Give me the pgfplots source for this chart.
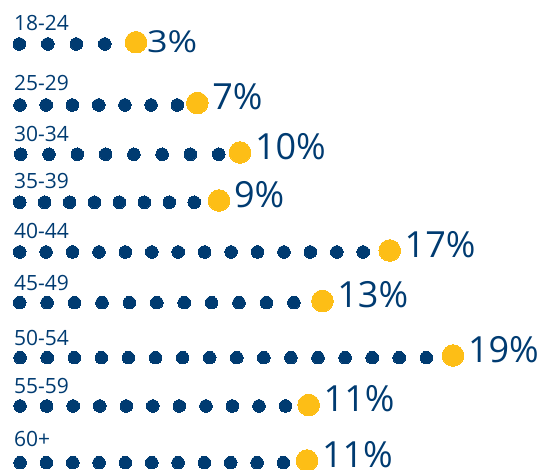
\documentclass[border=0pt]{standalone}
\usepackage{pgfplots}
\pgfplotsset{compat=1.18}
\usepackage{pgfplotstable}
\usepackage{graphicx}
\usepackage{fontspec}
\setmainfont{Open Sans}

\definecolor{navy}{RGB}{0,59,113}
\definecolor{gold}{RGB}{253,190,22}

% small navy dots of each row (pixel positions, y measured from the top)
\pgfplotstableread{
x y
19.3 44
47.8 44
76.3 44
104.8 44
20.0 105
46.2 105
72.4 105
98.7 105
124.9 105
151.1 105
177.3 105
20.7 154.3
49.0 154.3
77.3 154.3
105.6 154.3
133.9 154.3
162.1 154.3
190.4 154.3
218.7 154.3
19.7 202.3
44.6 202.3
69.6 202.3
94.5 202.3
119.4 202.3
144.4 202.3
169.3 202.3
194.2 202.3
19.7 252
46.1 252
72.5 252
99.0 252
125.4 252
151.8 252
178.2 252
204.6 252
231.1 252
257.5 252
283.9 252
310.3 252
336.8 252
363.2 252
19.7 302.7
47.1 302.7
74.5 302.7
102.0 302.7
129.4 302.7
156.8 302.7
184.2 302.7
211.6 302.7
239.0 302.7
266.5 302.7
293.9 302.7
20.1 357.7
47.2 357.7
74.3 357.7
101.4 357.7
128.4 357.7
155.5 357.7
182.6 357.7
209.7 357.7
236.8 357.7
263.8 357.7
290.9 357.7
318.0 357.7
345.1 357.7
372.2 357.7
399.2 357.7
426.3 357.7
20.1 406
46.6 406
73.2 406
99.7 406
126.3 406
152.8 406
179.3 406
205.9 406
232.4 406
259.0 406
285.5 406
20.1 462.7
46.4 462.7
72.8 462.7
99.1 462.7
125.4 462.7
151.8 462.7
178.1 462.7
204.4 462.7
230.7 462.7
257.1 462.7
283.4 462.7
}\bluedots

% end points (yellow) with their share
\pgfplotstableread{
x y label
136.0 42.2 3\%
}\firstrow
\pgfplotstableread{
x y label
197.3 103.0 7\%
240.0 152.5 10\%
219.0 200.5 9\%
389.7 250.5 17\%
322.4 301.0 13\%
453.0 355.5 19\%
308.7 405.0 11\%
307.0 460.5 11\%
}\otherrows

\begin{document}
\begin{tikzpicture}
\begin{axis}[
    width=552bp, height=470bp,
    scale only axis,
    xmin=0, xmax=552,
    ymin=0, ymax=470,
    y dir=reverse,
    hide axis,
    clip=false,
    point meta=explicit symbolic,
]
  \addplot[only marks, draw=none, mark=*, mark size=6.3bp,
    mark options={fill=navy, draw=navy, line width=0pt}] table {\bluedots};

  \addplot[only marks, draw=none, mark=*, mark size=10.8bp,
    mark options={fill=gold, draw=gold, line width=0pt},
    nodes near coords={\scalebox{1}[0.84]{\pgfplotspointmeta}},
    every node near coord/.append style={anchor=west, inner sep=0pt,
      xshift=11bp, yshift=0bp, text=navy,
      font=\fontsize{36bp}{38bp}\selectfont}]
    table[meta=label] {\firstrow};

  \addplot[only marks, draw=none, mark=*, mark size=10.8bp,
    mark options={fill=gold, draw=gold, line width=0pt},
    nodes near coords,
    every node near coord/.append style={anchor=west, inner sep=0pt,
      xshift=15bp, yshift=6bp, text=navy,
      font=\fontsize{36bp}{38bp}\selectfont}]
    table[meta=label] {\otherrows};

  % age group labels
  \begin{scope}[every node/.style={anchor=base west, inner sep=0pt,
      text=navy, font=\fontsize{21bp}{24bp}\selectfont}]
    \node at (axis cs:14,31.0) {18-24};
    \node at (axis cs:14,90.7) {25-29};
    \node at (axis cs:14,141.7) {30-34};
    \node at (axis cs:14,188.3) {35-39};
    \node at (axis cs:14,239.0) {40-44};
    \node at (axis cs:14,290.7) {45-49};
    \node at (axis cs:14,345.7) {50-54};
    \node at (axis cs:14,394.0) {55-59};
    \node at (axis cs:14,446.7) {60+};
  \end{scope}
\end{axis}
\pgfresetboundingbox
\path[use as bounding box] (current axis.south west) rectangle (current axis.north east);
\end{tikzpicture}
\end{document}
